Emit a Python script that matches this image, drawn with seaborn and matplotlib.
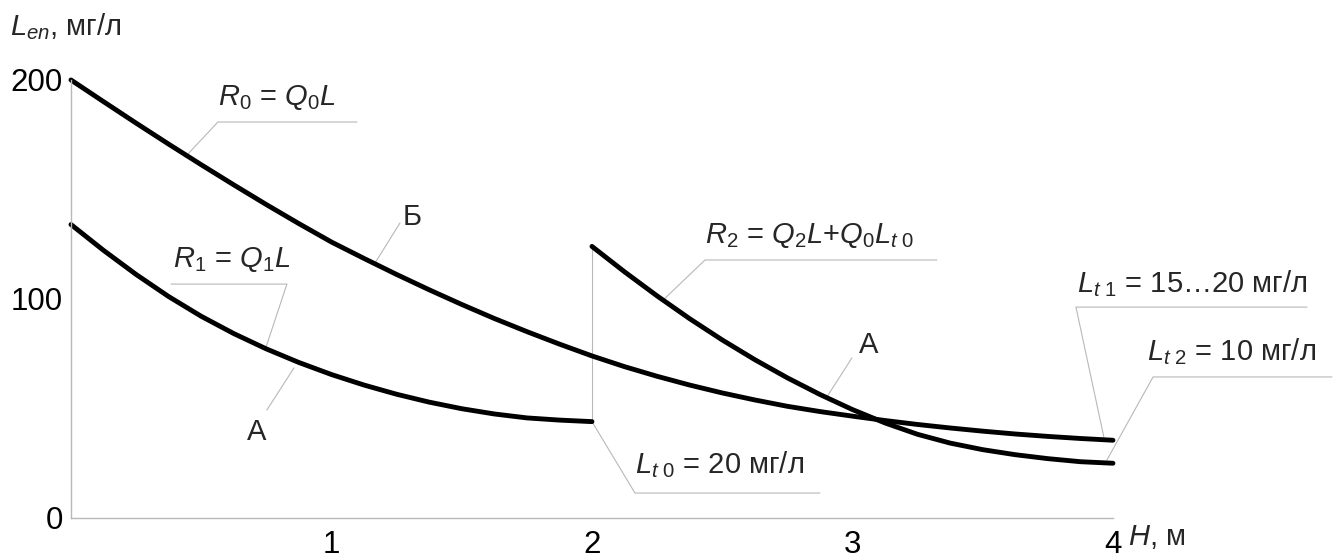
import matplotlib
matplotlib.use('Agg')
import matplotlib.pyplot as plt
import seaborn as sns
import pandas as pd

# Кривая Б: R0 = Q0*L
h_b = [0, 0.125, 0.25, 0.375, 0.5, 0.625, 0.75, 0.875, 1, 1.125, 1.25, 1.375, 1.5, 1.625,
       1.75, 1.875, 2, 2.125, 2.25, 2.375, 2.5, 2.625, 2.75, 2.875, 3, 3.125, 3.25, 3.375,
       3.5, 3.625, 3.75, 3.875, 4]
l_b = [200, 190.1, 180.3, 170.7, 161.3, 152.1, 143.1, 134.4, 126, 118.5, 111.2, 104.2,
       97.5, 91.1, 85.1, 79.4, 74, 69.1, 64.7, 60.7, 57.1, 53.9, 51, 48.6, 46.5, 44.5,
       42.7, 41.1, 39.65, 38.35, 37.25, 36.3, 35.5]

# Кривая А (первая ступень): R1 = Q1*L
h_a1 = [0, 0.125, 0.25, 0.375, 0.5, 0.625, 0.75, 0.875, 1, 1.125, 1.25, 1.375, 1.5,
        1.625, 1.75, 1.875, 2]
l_a1 = [134, 122.2, 111.2, 101.1, 92.1, 84.2, 77.2, 71, 65.5, 60.7, 56.5, 52.9, 49.9,
        47.5, 45.7, 44.7, 44]

# Кривая А (вторая ступень): R2 = Q2*L + Q0*Lt0
h_a2 = [2, 2.125, 2.25, 2.375, 2.5, 2.625, 2.75, 2.875, 3, 3.125, 3.25, 3.375, 3.5,
        3.625, 3.75, 3.875, 4]
l_a2 = [124, 112.4, 101.4, 91, 81.3, 72.3, 64, 56.4, 49.5, 43.4, 38.2, 34.2, 31.2,
        28.9, 27.1, 25.7, 25]

x_ticks = [1, 2, 3, 4]
y_ticks = [0, 100, 200]

sns.set_style('white')
plt.rcParams['font.family'] = ['Liberation Sans', 'DejaVu Sans']
plt.rcParams['mathtext.fontset'] = 'custom'
plt.rcParams['mathtext.rm'] = 'Liberation Sans'
plt.rcParams['mathtext.it'] = 'Liberation Sans:italic'

fig = plt.figure(figsize=(13.34, 5.58), dpi=100)
ax = fig.add_axes([0.0532, 0.0717, 0.7811, 0.785])

df_b = pd.DataFrame({'H': h_b, 'L': l_b})
df_a1 = pd.DataFrame({'H': h_a1, 'L': l_a1})
df_a2 = pd.DataFrame({'H': h_a2, 'L': l_a2})
for d in (df_b, df_a1, df_a2):
    sns.lineplot(data=d, x='H', y='L', color='black', linewidth=3.5, ax=ax,
                 solid_capstyle='round', solid_joinstyle='round', clip_on=False)

ax.set_xlim(0, 4)
ax.set_ylim(0, 200)
ax.set_xticks(x_ticks)
ax.set_yticks(y_ticks)
ax.set_xlabel('')
ax.set_ylabel('')
gray = '#b8b8b8'
sns.despine(ax=ax)
for s in ('left', 'bottom'):
    ax.spines[s].set_color(gray)
    ax.spines[s].set_linewidth(1.0)
ax.tick_params(axis='both', direction='in', length=7.5, width=0.8, color=gray,
               labelsize=22.5, labelcolor='black')
ax.tick_params(axis='x', pad=9)
ax.tick_params(axis='y', pad=6)

# выноски (тонкие серые линии)
lw = 0.8
def leader(xs, ys):
    ax.plot(xs, ys, color=gray, linewidth=lw, clip_on=False, zorder=1)

leader([2, 2], [l_a1[-1], l_a2[0]])
leader([0.438, 0.564, 1.098], [164.8, 180.8, 180.8])
leader([1.167, 1.263], [116.4, 134.7])
leader([0.749, 0.829, 0.384], [78.1, 106.8, 106.8])
leader([0.856, 0.752], [68.5, 49.3])
leader([2.0, 2.165, 2.875], [44, 11.4, 11.4])
leader([2.273, 2.434, 3.324], [99.5, 117.8, 117.8])
leader([2.902, 2.998], [55.3, 73.1])
leader([3.965, 3.858, 4.745], [37, 96.3, 96.3])
leader([3.977, 4.154, 4.841], [26.5, 64.4, 64.4])

fs = 21
def label(x, y, s, ha='left'):
    ax.text(x, y, s, fontsize=fs, ha=ha, va='baseline', clip_on=False)

label(0.564, 188.6, r'$R_0$ = $Q_0L$')
label(1.274, 133.8, 'Б')
label(0.39, 114.6, r'$R_1$ = $Q_1L$')
label(0.714, 35.6, 'А', ha='center')
label(2.165, 20.5, r'$L_{t\ 0}$ = 20 мг/л')
label(2.434, 125.6, r'$R_2$ = $Q_2L$+$Q_0L_{t\ 0}$')
label(3.063, 75.3, 'А', ha='center')
label(3.862, 103.2, r'$L_{t\ 1}$ = 15…20 мг/л')
label(4.131, 72.1, r'$L_{t\ 2}$ = 10 мг/л')
label(-0.234, 220.5, r'$L_{en}$, мг/л')
label(4.058, -12.3, r'$H$, м')

fig.savefig('out.png', dpi=100)
